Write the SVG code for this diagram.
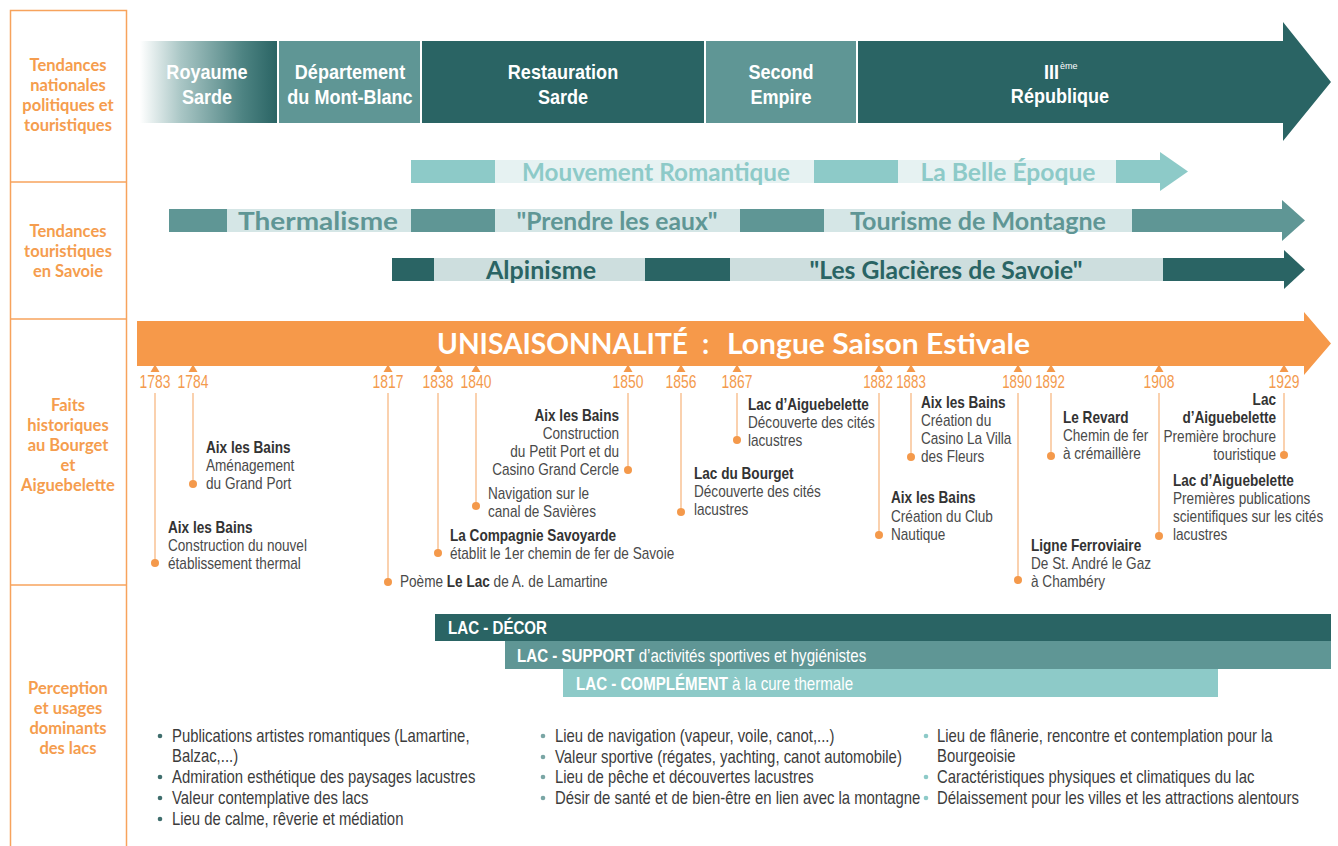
<svg xmlns="http://www.w3.org/2000/svg" width="1338" height="846" viewBox="0 0 1338 846">
<defs>
<linearGradient id="gRoy" x1="0" x2="1" y1="0" y2="0">
<stop offset="0" stop-color="#ffffff"/>
<stop offset="0.3" stop-color="#a9c6c5"/>
<stop offset="0.75" stop-color="#4d8382"/>
<stop offset="1" stop-color="#2a6464"/>
</linearGradient>
<style>
.lab{font-family:Lato,"Open Sans",sans-serif;font-weight:700;font-size:16.5px;fill:#f59d4e;text-anchor:middle}
.hd{font-family:"Liberation Sans",Arial,sans-serif;font-weight:700;font-size:21px;fill:#ffffff;text-anchor:middle}
.tr{font-family:Lato,"Open Sans",sans-serif;font-weight:700;font-size:25px;text-anchor:middle}
.yr{font-family:"Liberation Sans",Arial,sans-serif;font-size:18.5px;fill:#f39a4d;text-anchor:middle}
.ev{font-family:"Liberation Sans",Arial,sans-serif;font-size:16px;fill:#4a4a4a}
.b{font-weight:700;fill:#333333}
.bar{font-family:"Liberation Sans",Arial,sans-serif;font-size:18px;fill:#ffffff}
.li{font-family:"Liberation Sans",Arial,sans-serif;font-size:17.5px;fill:#3c3c3c}
.vl{stroke:#f7b37a;stroke-width:1.2;fill:none}
.dot{fill:#f4994b}
.tri{fill:#f4994b}
.dk{fill:#2a6464}
.md{fill:#5f9695}
.lt{fill:#8dcac8}
</style>
</defs>
<rect width="1338" height="846" fill="#ffffff"/>

<g id="left-column">
<rect x="10.5" y="10.5" width="116" height="850" fill="none" stroke="#f7a35c" stroke-width="1.5"/>
<line x1="10.5" y1="182" x2="126.5" y2="182" stroke="#f7a35c" stroke-width="1.5"/>
<line x1="10.5" y1="319" x2="126.5" y2="319" stroke="#f7a35c" stroke-width="1.5"/>
<line x1="10.5" y1="585" x2="126.5" y2="585" stroke="#f7a35c" stroke-width="1.5"/>
<text class="lab"><tspan x="68" y="71">Tendances</tspan><tspan x="68" y="91">nationales</tspan><tspan x="68" y="111">politiques et</tspan><tspan x="68" y="131">touristiques</tspan></text>
<text class="lab"><tspan x="68" y="237">Tendances</tspan><tspan x="68" y="257">touristiques</tspan><tspan x="68" y="277">en Savoie</tspan></text>
<text class="lab"><tspan x="68" y="411">Faits</tspan><tspan x="68" y="431">historiques</tspan><tspan x="68" y="451">au Bourget</tspan><tspan x="68" y="471">et</tspan><tspan x="68" y="491">Aiguebelette</tspan></text>
<text class="lab"><tspan x="68" y="694">Perception</tspan><tspan x="68" y="714">et usages</tspan><tspan x="68" y="734">dominants</tspan><tspan x="68" y="754">des lacs</tspan></text>
</g>

<g id="periods">
<g id="royaume-sarde">
<rect x="140" y="41" width="137" height="82" fill="url(#gRoy)"/>
<text class="hd" transform="matrix(0.86 0 0 1 28.98 0)"><tspan x="207" y="79">Royaume</tspan><tspan x="207" y="104">Sarde</tspan></text>
</g>
<g id="departement">
<rect x="279" y="41" width="141" height="82" class="md"/>
<text class="hd" transform="matrix(0.86 0 0 1 49 0)"><tspan x="350" y="79">Département</tspan><tspan x="350" y="104">du Mont-Blanc</tspan></text>
</g>
<g id="restauration">
<rect x="422" y="41" width="282" height="82" class="dk"/>
<text class="hd" transform="matrix(0.86 0 0 1 78.82 0)"><tspan x="563" y="79">Restauration</tspan><tspan x="563" y="104">Sarde</tspan></text>
</g>
<g id="second-empire">
<rect x="706" y="41" width="150" height="82" class="md"/>
<text class="hd" transform="matrix(0.86 0 0 1 109.34 0)"><tspan x="781" y="79">Second</tspan><tspan x="781" y="104">Empire</tspan></text>
</g>
<g id="republique">
<polygon points="858,41 1283,41 1283,22 1331,82 1283,141 1283,123 858,123" class="dk"/>
<text class="hd" x="1059" y="79" style="text-anchor:end" transform="matrix(0.86 0 0 1 148.26 0)">III</text>
<text x="1060" y="69" font-family="Liberation Sans, Arial, sans-serif" font-size="9" fill="#ffffff">ème</text>
<text class="hd" x="1060" y="103" transform="matrix(0.86 0 0 1 148.4 0)">République</text>
</g>
</g>

<g id="trend-romantique">
<rect x="411" y="160" width="84" height="23" class="lt"/>
<rect x="495" y="160" width="319" height="23" fill="#e6f2f2"/>
<rect x="814" y="160" width="84" height="23" class="lt"/>
<rect x="898" y="160" width="218" height="23" fill="#e6f2f2"/>
<rect x="1116" y="160" width="45" height="23" class="lt"/>
<polygon points="1160,152 1188,171.5 1160,191" class="lt"/>
<text class="tr" fill="#8dcac8" x="656" y="181" textLength="268" lengthAdjust="spacingAndGlyphs">Mouvement Romantique</text>
<text class="tr" fill="#8dcac8" x="1008" y="181" textLength="175" lengthAdjust="spacingAndGlyphs">La Belle Époque</text>
</g>

<g id="trend-thermalisme">
<rect x="169" y="209" width="58" height="23" class="md"/>
<rect x="227" y="209" width="184" height="23" fill="#d5e6e6"/>
<rect x="411" y="209" width="84" height="23" class="md"/>
<rect x="495" y="209" width="245" height="23" fill="#d5e6e6"/>
<rect x="740" y="209" width="84" height="23" class="md"/>
<rect x="824" y="209" width="308" height="23" fill="#d5e6e6"/>
<rect x="1132" y="209" width="151" height="23" class="md"/>
<polygon points="1282,200 1305,220.5 1282,241" class="md"/>
<text class="tr" fill="#5f9695" x="318" y="230" textLength="160" lengthAdjust="spacingAndGlyphs">Thermalisme</text>
<text class="tr" fill="#5f9695" x="617" y="230" textLength="201" lengthAdjust="spacingAndGlyphs">"Prendre les eaux"</text>
<text class="tr" fill="#5f9695" x="978" y="230" textLength="256" lengthAdjust="spacingAndGlyphs">Tourisme de Montagne</text>
</g>

<g id="trend-alpinisme">
<rect x="392" y="258" width="42" height="23" class="dk"/>
<rect x="434" y="258" width="211" height="23" fill="#cddede"/>
<rect x="645" y="258" width="85" height="23" class="dk"/>
<rect x="730" y="258" width="433" height="23" fill="#cddede"/>
<rect x="1163" y="258" width="122" height="23" class="dk"/>
<polygon points="1284,250 1305,269.5 1284,289" class="dk"/>
<text class="tr" fill="#2a6464" x="541" y="279" textLength="110" lengthAdjust="spacingAndGlyphs">Alpinisme</text>
<text class="tr" fill="#2a6464" x="946" y="279" textLength="273" lengthAdjust="spacingAndGlyphs">"Les Glacières de Savoie"</text>
</g>

<g id="unisaisonnalite">
<polygon points="137,321 1304,321 1304,312 1331,343.5 1304,375 1304,366 137,366" fill="#f6994a"/>
<text y="354" font-family="Lato,'Open Sans',sans-serif" font-weight="700" font-size="28" fill="#ffffff"><tspan x="437" textLength="251" lengthAdjust="spacingAndGlyphs">UNISAISONNALITÉ</tspan><tspan x="702">:</tspan><tspan x="727" textLength="303" lengthAdjust="spacingAndGlyphs">Longue Saison Estivale</tspan></text>
</g>

<g id="connectors">
<path class="vl" d="M155,393V563 M193,393V484 M388,393V582 M438,393V553 M476,393V506 M628,393V470 M681,393V512 M737,393V440 M879,393V535 M911,393V457 M1018,393V580 M1051,393V456 M1159,393V536 M1284,393V455"/>
</g>

<g id="ticks">
<polygon class="tri" points="150.5,372 155,364.5 159.5,372"/>
<polygon class="tri" points="188.5,372 193,364.5 197.5,372"/>
<polygon class="tri" points="383.5,372 388,364.5 392.5,372"/>
<polygon class="tri" points="433.5,372 438,364.5 442.5,372"/>
<polygon class="tri" points="471.5,372 476,364.5 480.5,372"/>
<polygon class="tri" points="623.5,372 628,364.5 632.5,372"/>
<polygon class="tri" points="676.5,372 681,364.5 685.5,372"/>
<polygon class="tri" points="732.5,372 737,364.5 741.5,372"/>
<polygon class="tri" points="874.5,372 879,364.5 883.5,372"/>
<polygon class="tri" points="906.5,372 911,364.5 915.5,372"/>
<polygon class="tri" points="1013.5,372 1018,364.5 1022.5,372"/>
<polygon class="tri" points="1046.5,372 1051,364.5 1055.5,372"/>
<polygon class="tri" points="1154.5,372 1159,364.5 1163.5,372"/>
<polygon class="tri" points="1279.5,372 1284,364.5 1288.5,372"/>
<text class="yr" x="155" y="388" transform="matrix(0.75 0 0 1 38.75 0)">1783</text>
<text class="yr" x="193" y="388" transform="matrix(0.75 0 0 1 48.25 0)">1784</text>
<text class="yr" x="388" y="388" transform="matrix(0.75 0 0 1 97 0)">1817</text>
<text class="yr" x="438" y="388" transform="matrix(0.75 0 0 1 109.5 0)">1838</text>
<text class="yr" x="476" y="388" transform="matrix(0.75 0 0 1 119 0)">1840</text>
<text class="yr" x="628" y="388" transform="matrix(0.75 0 0 1 157 0)">1850</text>
<text class="yr" x="681" y="388" transform="matrix(0.75 0 0 1 170.25 0)">1856</text>
<text class="yr" x="737" y="388" transform="matrix(0.75 0 0 1 184.25 0)">1867</text>
<text class="yr" x="878" y="388" transform="matrix(0.72 0 0 1 245.84 0)">1882</text>
<text class="yr" x="911" y="388" transform="matrix(0.72 0 0 1 255.08 0)">1883</text>
<text class="yr" x="1017" y="388" transform="matrix(0.72 0 0 1 284.76 0)">1890</text>
<text class="yr" x="1050" y="388" transform="matrix(0.72 0 0 1 294 0)">1892</text>
<text class="yr" x="1159" y="388" transform="matrix(0.75 0 0 1 289.75 0)">1908</text>
<text class="yr" x="1284" y="388" transform="matrix(0.75 0 0 1 321 0)">1929</text>
</g>

<g id="ev-1783"><circle class="dot" cx="155" cy="563" r="4"/>
<text class="ev" transform="matrix(0.85 0 0 1 25.2 0)"><tspan class="b" x="168" y="533">Aix les Bains</tspan><tspan x="168" y="551">Construction du nouvel</tspan><tspan x="168" y="569">établissement thermal</tspan></text></g>
<g id="ev-1784"><circle class="dot" cx="193" cy="484" r="4"/>
<text class="ev" transform="matrix(0.85 0 0 1 30.9 0)"><tspan class="b" x="206" y="453">Aix les Bains</tspan><tspan x="206" y="471">Aménagement</tspan><tspan x="206" y="489">du Grand Port</tspan></text></g>
<g id="ev-1817"><circle class="dot" cx="388" cy="582" r="4"/>
<text class="ev" x="400" y="587" transform="matrix(0.85 0 0 1 60 0)">Poème <tspan class="b">Le Lac</tspan> de A. de Lamartine</text></g>
<g id="ev-1838"><circle class="dot" cx="438" cy="553" r="4"/>
<text class="ev" transform="matrix(0.85 0 0 1 67.5 0)"><tspan class="b" x="450" y="541">La Compagnie Savoyarde</tspan><tspan x="450" y="559">établit le 1er chemin de fer de Savoie</tspan></text></g>
<g id="ev-1840"><circle class="dot" cx="476" cy="506" r="4"/>
<text class="ev" transform="matrix(0.85 0 0 1 73.2 0)"><tspan x="488" y="499">Navigation sur le</tspan><tspan x="488" y="517">canal de Savières</tspan></text></g>
<g id="ev-1850"><circle class="dot" cx="628" cy="470" r="4"/>
<text class="ev" text-anchor="end" transform="matrix(0.85 0 0 1 92.85 0)"><tspan class="b" x="619" y="421">Aix les Bains</tspan><tspan x="619" y="439">Construction</tspan><tspan x="619" y="457">du Petit Port et du</tspan><tspan x="619" y="475">Casino Grand Cercle</tspan></text></g>
<g id="ev-1856"><circle class="dot" cx="681" cy="512" r="4"/>
<text class="ev" transform="matrix(0.85 0 0 1 104.1 0)"><tspan class="b" x="694" y="479">Lac du Bourget</tspan><tspan x="694" y="497">Découverte des cités</tspan><tspan x="694" y="515">lacustres</tspan></text></g>
<g id="ev-1867"><circle class="dot" cx="737" cy="440" r="4"/>
<text class="ev" transform="matrix(0.85 0 0 1 112.2 0)"><tspan class="b" x="748" y="410">Lac d’Aiguebelette</tspan><tspan x="748" y="428">Découverte des cités</tspan><tspan x="748" y="446">lacustres</tspan></text></g>
<g id="ev-1882"><circle class="dot" cx="879" cy="535" r="4"/>
<text class="ev" transform="matrix(0.85 0 0 1 133.65 0)"><tspan class="b" x="891" y="503">Aix les Bains</tspan><tspan x="891" y="522">Création du Club</tspan><tspan x="891" y="540">Nautique</tspan></text></g>
<g id="ev-1883"><circle class="dot" cx="911" cy="457" r="4"/>
<text class="ev" transform="matrix(0.85 0 0 1 138.15 0)"><tspan class="b" x="921" y="408">Aix les Bains</tspan><tspan x="921" y="426">Création du</tspan><tspan x="921" y="444">Casino La Villa</tspan><tspan x="921" y="462">des Fleurs</tspan></text></g>
<g id="ev-1890"><circle class="dot" cx="1018" cy="580" r="4"/>
<text class="ev" transform="matrix(0.85 0 0 1 154.65 0)"><tspan class="b" x="1031" y="551">Ligne Ferroviaire</tspan><tspan x="1031" y="569">De St. André le Gaz</tspan><tspan x="1031" y="587">à Chambéry</tspan></text></g>
<g id="ev-1892"><circle class="dot" cx="1051" cy="456" r="4"/>
<text class="ev" transform="matrix(0.85 0 0 1 159.45 0)"><tspan class="b" x="1063" y="423">Le Revard</tspan><tspan x="1063" y="441">Chemin de fer</tspan><tspan x="1063" y="459">à crémaillère</tspan></text></g>
<g id="ev-1908"><circle class="dot" cx="1159" cy="536" r="4"/>
<text class="ev" transform="matrix(0.85 0 0 1 175.95 0)"><tspan class="b" x="1173" y="486">Lac d’Aiguebelette</tspan><tspan x="1173" y="504">Premières publications</tspan><tspan x="1173" y="522">scientifiques sur les cités</tspan><tspan x="1173" y="540">lacustres</tspan></text></g>
<g id="ev-1929"><circle class="dot" cx="1284" cy="455" r="4"/>
<text class="ev" text-anchor="end" transform="matrix(0.85 0 0 1 191.4 0)"><tspan class="b" x="1276" y="405">Lac</tspan><tspan class="b" x="1276" y="423">d’Aiguebelette</tspan><tspan x="1276" y="442">Première brochure</tspan><tspan x="1276" y="460">touristique</tspan></text></g>

<g id="lac-decor">
<rect x="435" y="614" width="896" height="27" class="dk"/>
<text class="bar" x="448" y="634" transform="matrix(0.84 0 0 1 71.68 0)"><tspan font-weight="700">LAC - DÉCOR</tspan></text>
</g>
<g id="lac-support">
<rect x="505" y="641" width="826" height="28" class="md"/>
<text class="bar" x="517" y="662" transform="matrix(0.84 0 0 1 82.72 0)"><tspan font-weight="700">LAC - SUPPORT</tspan> d’activités sportives et hygiénistes</text>
</g>
<g id="lac-complement">
<rect x="563" y="669" width="655" height="28" class="lt"/>
<text class="bar" x="576" y="690" transform="matrix(0.84 0 0 1 92.16 0)"><tspan font-weight="700">LAC - COMPLÉMENT</tspan> à la cure thermale</text>
</g>

<g id="list-1">
<circle cx="160" cy="736" r="2.3" fill="#3f6e6d"/>
<circle cx="160" cy="777" r="2.3" fill="#3f6e6d"/>
<circle cx="160" cy="798" r="2.3" fill="#3f6e6d"/>
<circle cx="160" cy="819" r="2.3" fill="#3f6e6d"/>
<text class="li" transform="matrix(0.85 0 0 1 25.8 0)"><tspan x="172" y="742">Publications artistes romantiques (Lamartine,</tspan><tspan x="172" y="762">Balzac,...)</tspan><tspan x="172" y="783">Admiration esthétique des paysages lacustres</tspan><tspan x="172" y="804">Valeur contemplative des lacs</tspan><tspan x="172" y="825">Lieu de calme, rêverie et médiation</tspan></text>
</g>
<g id="list-2">
<circle cx="543" cy="736" r="2.3" fill="#7aa6a5"/>
<circle cx="543" cy="757" r="2.3" fill="#7aa6a5"/>
<circle cx="543" cy="777" r="2.3" fill="#7aa6a5"/>
<circle cx="543" cy="798" r="2.3" fill="#7aa6a5"/>
<text class="li" transform="matrix(0.85 0 0 1 83.25 0)"><tspan x="555" y="742">Lieu de navigation (vapeur, voile, canot,...)</tspan><tspan x="555" y="763">Valeur sportive (régates, yachting, canot automobile)</tspan><tspan x="555" y="783">Lieu de pêche et découvertes lacustres</tspan><tspan x="555" y="804">Désir de santé et de bien-être en lien avec la montagne</tspan></text>
</g>
<g id="list-3">
<circle cx="926" cy="736" r="2.3" fill="#8dcac8"/>
<circle cx="926" cy="777" r="2.3" fill="#8dcac8"/>
<circle cx="926" cy="798" r="2.3" fill="#8dcac8"/>
<text class="li" transform="matrix(0.85 0 0 1 140.55 0)"><tspan x="937" y="742">Lieu de flânerie, rencontre et contemplation pour la</tspan><tspan x="937" y="762">Bourgeoisie</tspan><tspan x="937" y="783">Caractéristiques physiques et climatiques du lac</tspan><tspan x="937" y="804">Délaissement pour les villes et les attractions alentours</tspan></text>
</g>
</svg>
